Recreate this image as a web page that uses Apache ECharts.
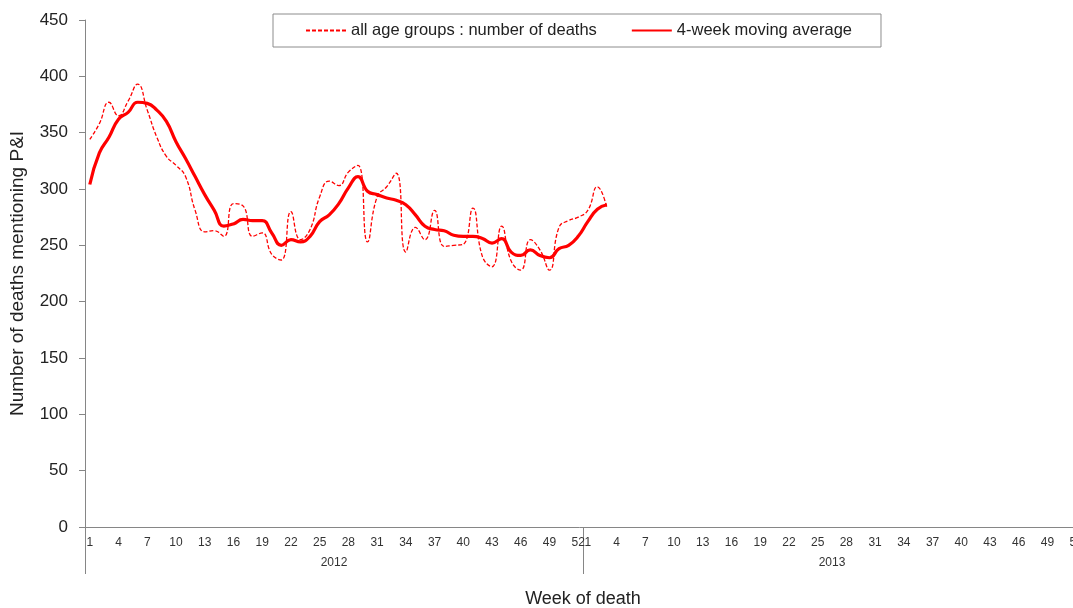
<!DOCTYPE html>
<html>
<head>
<meta charset="utf-8">
<script src="https://cdn.jsdelivr.net/npm/echarts@6/dist/echarts.min.js"></script>
<style>
  html, body { margin: 0; padding: 0; background: #fff; }
  #chart { width: 1073px; height: 608px; }
</style>
</head>
<body>
<div id="chart"></div>
<script>
// x axis: weeks 1-52 of each year
var years = ['2012', '2013'];
var weeksPerYear = 52;

// weekly number of deaths mentioning P&I (2012 weeks 1-52, then 2013 weeks 1-3)
var deaths2012 = [344, 358, 377, 365, 378, 393, 370, 346, 329, 321, 311, 281, 262,
                  263, 258, 287, 285, 258, 261, 242, 237, 280, 255, 264, 293, 307,
                  303, 315, 321, 253, 293, 302, 314, 244, 266, 255, 281, 249, 250,
                  251, 283, 240, 231, 267, 236, 228, 255, 246, 228, 266, 272, 275];
var deaths2013 = [281, 302, 283];

// 4-week moving average
var avg2012 = [304, 332, 346, 362, 368, 377, 376, 370, 360, 342, 327, 311, 295,
               281, 267, 269, 273, 272, 272, 261, 250, 255, 253, 258, 271, 277,
               287, 301, 311, 298, 295, 292, 290, 286, 277, 267, 264, 263, 259,
               258, 258, 256, 252, 256, 244, 241, 246, 241, 239, 247, 250, 258];
var avg2013 = [271, 282, 286];

var weekLabels = [];
years.forEach(function (y) {
    for (var w = 1; w <= weeksPerYear; w++) {
        weekLabels.push(String(w));
    }
});

var font = 'Liberation Sans, Arial, sans-serif';
var axisColor = '#868686';

var myChart = echarts.init(document.getElementById('chart'));

var option = {
    backgroundColor: '#fff',
    animation: false,
    legend: {
        left: 273,
        top: 14,
        padding: [8, 29, 8, 32],
        itemGap: 34,
        itemWidth: 40,
        itemHeight: 14,
        borderColor: '#8c8c8c',
        borderWidth: 1,
        itemStyle: { opacity: 0 },
        textStyle: { fontFamily: font, fontSize: 16.5, color: '#222' },
        data: ['all age groups : number of deaths', '4-week moving average']
    },
    grid: {
        left: 85,
        right: -8,
        top: 20,
        bottom: 81,
        outerBoundsMode: 'none'
    },
    xAxis: [
        {
            type: 'category',
            data: weekLabels,
            boundaryGap: true,
            axisLine: { lineStyle: { color: axisColor, width: 1 } },
            axisTick: { show: false },
            axisLabel: {
                interval: function (idx) { return (idx % weeksPerYear) % 3 === 0; },
                margin: 10,
                fontFamily: font,
                fontSize: 12,
                color: '#333'
            },
            name: 'Week of death',
            nameLocation: 'middle',
            nameGap: 63,
            nameTextStyle: { fontFamily: font, fontSize: 18, color: '#222' }
        },
        {
            type: 'category',
            data: years,
            position: 'bottom',
            boundaryGap: true,
            axisLine: { show: false },
            axisTick: { show: true, length: 47, lineStyle: { color: axisColor } },
            axisLabel: {
                margin: 30,
                fontFamily: font,
                fontSize: 12,
                color: '#333'
            }
        }
    ],
    yAxis: {
        type: 'value',
        min: 0,
        max: 450,
        interval: 50,
        splitLine: { show: false },
        axisLine: { show: true, lineStyle: { color: axisColor, width: 1 } },
        axisTick: { show: true, length: 6, lineStyle: { color: axisColor } },
        axisLabel: { fontFamily: font, fontSize: 17, color: '#222', margin: 17 },
        name: 'Number of deaths mentioning P&I',
        nameLocation: 'middle',
        nameGap: 58,
        nameTextStyle: { fontFamily: font, fontSize: 19, color: '#222' }
    },
    series: [
        {
            name: 'all age groups : number of deaths',
            type: 'line',
            xAxisIndex: 0,
            data: deaths2012.concat(deaths2013),
            smooth: 0.5,
            symbol: 'none',
            lineStyle: { color: '#ff0000', width: 1.3, type: [4, 2] },
            itemStyle: { color: '#ff0000' },
            z: 2
        },
        {
            name: '4-week moving average',
            type: 'line',
            xAxisIndex: 0,
            data: avg2012.concat(avg2013),
            smooth: 0.5,
            symbol: 'none',
            lineStyle: { color: '#ff0000', width: 3.2 },
            itemStyle: { color: '#ff0000' },
            z: 3
        }
    ]
};
myChart.setOption(option);
</script>
</body>
</html>
